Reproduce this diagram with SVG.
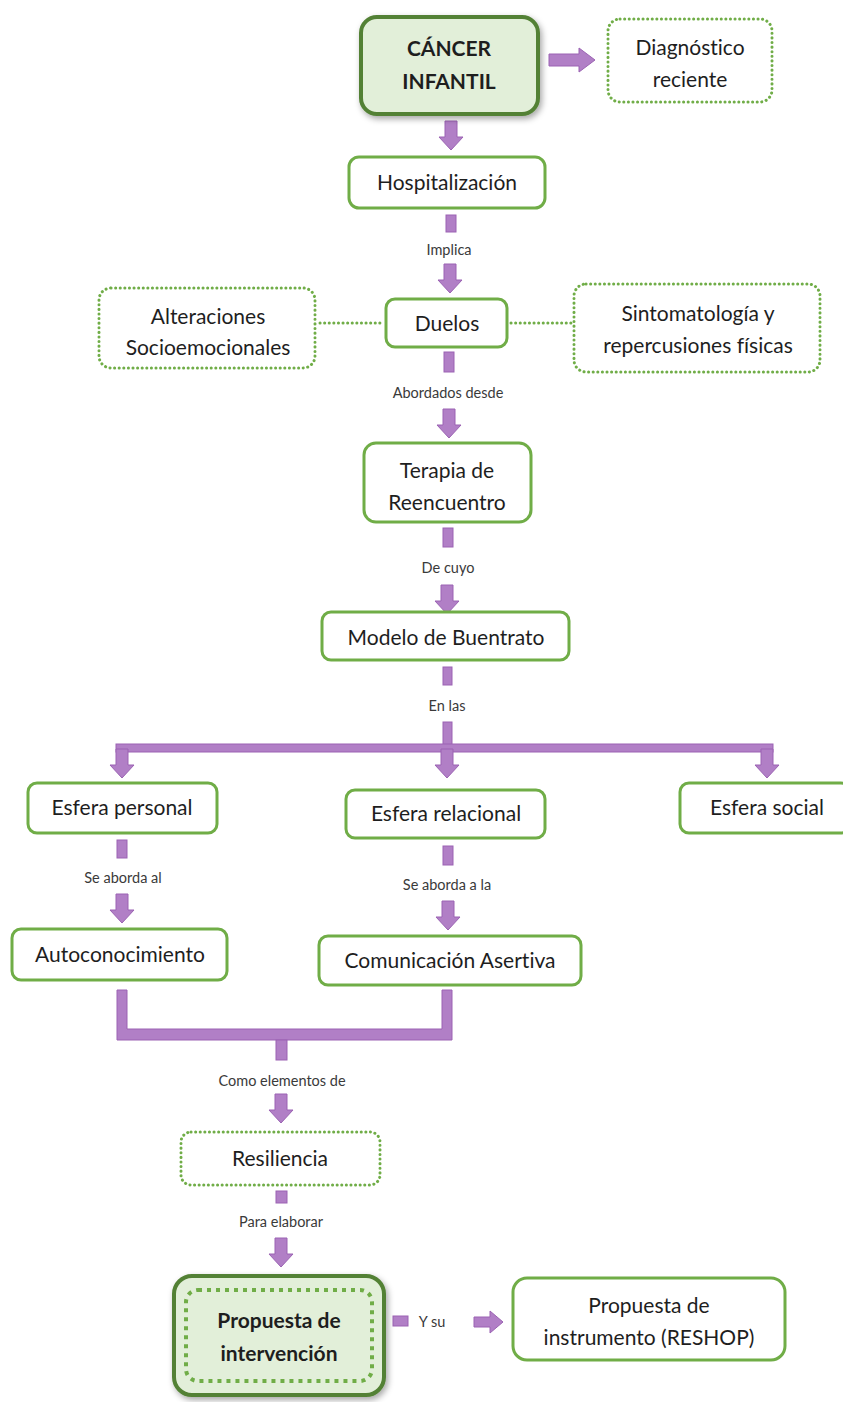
<svg xmlns="http://www.w3.org/2000/svg" xmlns:xlink="http://www.w3.org/1999/xlink" width="843" height="1402" viewBox="0 0 843 1402">
<style>
.box{fill:#fff;stroke:#70ad47;stroke-width:3}
.dot{fill:#fff;stroke:#70ad47;stroke-width:3;stroke-dasharray:0.1 4.5;stroke-linecap:round}
.main{fill:#e2efd9;stroke:#538135;stroke-width:4}
.t{font-family:Lato,"Liberation Sans",sans-serif;font-size:21px;fill:#1e1e1e;text-anchor:middle;font-variant-ligatures:none}
.b{font-weight:bold}
.s{font-family:Lato,"Liberation Sans",sans-serif;font-size:14.5px;fill:#3a3a3a;text-anchor:middle;font-variant-ligatures:none}
.p{fill:#b17fc6;stroke:#9b63b3;stroke-width:1}
.dl{stroke:#70ad47;stroke-width:3;stroke-dasharray:0.1 4.5;stroke-linecap:round}
</style>
<defs>
<filter id="sh" x="-20%" y="-20%" width="140%" height="140%">
<feDropShadow dx="2" dy="3" stdDeviation="3" flood-color="#000" flood-opacity="0.35"/>
</filter>
<path id="ad" d="M-6,0 H6 V16 H12 L0,29 L-12,16 H-6 Z"/>
<path id="ar" d="M0,-6 V6 H30 V12 L46,0 L30,-12 V-6 Z"/>
<path id="ar2" d="M0,-5 V5 H16 V11 L29,0 L16,-11 V-5 Z"/>
</defs>
<rect width="843" height="1402" fill="#fff"/>

<g id="connectors">
<use href="#ar" x="549" y="60" class="p"/>
<use href="#ad" x="451" y="121" class="p"/>
<rect x="446" y="215" width="10" height="17" class="p"/>
<text x="449" y="255" class="s">Implica</text>
<use href="#ad" x="450" y="264" class="p"/>
<line x1="320" y1="323" x2="382" y2="323" class="dl"/>
<line x1="511" y1="323" x2="571" y2="323" class="dl"/>
<rect x="444" y="352" width="10" height="20" class="p"/>
<text x="448" y="398" class="s">Abordados desde</text>
<use href="#ad" x="449" y="409" class="p"/>
<rect x="443" y="528" width="10" height="19" class="p"/>
<text x="448" y="573" class="s">De cuyo</text>
<use href="#ad" x="447" y="585" class="p"/>
<rect x="443" y="667" width="9" height="18" class="p"/>
<text x="447" y="711" class="s">En las</text>
<rect x="443" y="722" width="9" height="26" class="p"/>
<rect x="116" y="744" width="657" height="8" class="p"/>
<use href="#ad" x="122" y="749" class="p"/>
<use href="#ad" x="447" y="749" class="p"/>
<use href="#ad" x="767" y="749" class="p"/>
<rect x="117" y="840" width="10" height="18" class="p"/>
<text x="123" y="883" class="s">Se aborda al</text>
<use href="#ad" x="122" y="894" class="p"/>
<rect x="443" y="846" width="10" height="19" class="p"/>
<text x="447" y="890" class="s">Se aborda a la</text>
<use href="#ad" x="448" y="901" class="p"/>
<path d="M117,990 H127 V1029 H442 V990 H452 V1040 H117 Z" class="p"/>
<rect x="276" y="1040" width="11" height="20" class="p"/>
<text x="282" y="1086" class="s">Como elementos de</text>
<use href="#ad" x="281" y="1094" class="p"/>
<rect x="276" y="1191" width="11" height="12" class="p"/>
<text x="281" y="1227" class="s">Para elaborar</text>
<use href="#ad" x="281" y="1238" class="p"/>
<rect x="393" y="1316" width="15" height="10" class="p"/>
<text x="432" y="1327" class="s">Y su</text>
<use href="#ar2" x="474" y="1322" class="p"/>
</g>

<g id="n-cancer">
<rect x="361" y="17" width="177" height="97" rx="16" class="main" filter="url(#sh)"/>
<text x="449" y="56" class="t b">CÁNCER</text>
<text x="449" y="89" class="t b">INFANTIL</text>
</g>
<g id="n-diag">
<rect x="608" y="19" width="164" height="83" rx="12" class="dot"/>
<text x="690" y="55" class="t">Diagnóstico</text>
<text x="690" y="87" class="t">reciente</text>
</g>
<g id="n-hosp">
<rect x="349" y="157" width="196" height="51" rx="10" class="box"/>
<text x="447" y="190" class="t">Hospitalización</text>
</g>
<g id="n-alter">
<rect x="99" y="288" width="216" height="80" rx="12" class="dot"/>
<text x="208" y="324" class="t">Alteraciones</text>
<text x="208" y="355" class="t">Socioemocionales</text>
</g>
<g id="n-duelos">
<rect x="386" y="299" width="121" height="48" rx="9" class="box"/>
<text x="447" y="331" class="t">Duelos</text>
</g>
<g id="n-sinto">
<rect x="574" y="284" width="246" height="88" rx="12" class="dot"/>
<text x="698" y="321" class="t">Sintomatología y</text>
<text x="698" y="353" class="t">repercusiones físicas</text>
</g>
<g id="n-terapia">
<rect x="364" y="443" width="167" height="79" rx="12" class="box"/>
<text x="447" y="478" class="t">Terapia de</text>
<text x="447" y="510" class="t">Reencuentro</text>
</g>
<g id="n-modelo">
<rect x="322" y="612" width="247" height="48" rx="9" class="box"/>
<text x="446" y="645" class="t">Modelo de Buentrato</text>
</g>
<g id="n-personal">
<rect x="28" y="783" width="189" height="50" rx="9" class="box"/>
<text x="122" y="815" class="t">Esfera personal</text>
</g>
<g id="n-relacional">
<rect x="346" y="790" width="199" height="48" rx="9" class="box"/>
<text x="446" y="821" class="t">Esfera relacional</text>
</g>
<g id="n-social">
<rect x="680" y="783" width="170" height="50" rx="9" class="box"/>
<text x="767" y="815" class="t">Esfera social</text>
</g>
<g id="n-auto">
<rect x="12" y="929" width="215" height="51" rx="9" class="box"/>
<text x="120" y="962" class="t">Autoconocimiento</text>
</g>
<g id="n-comun">
<rect x="319" y="936" width="262" height="49" rx="9" class="box"/>
<text x="450" y="968" class="t">Comunicación Asertiva</text>
</g>
<g id="n-resil">
<rect x="181" y="1132" width="199" height="53" rx="10" class="dot"/>
<text x="280" y="1166" class="t">Resiliencia</text>
</g>
<g id="n-propuesta">
<rect x="174" y="1276" width="210" height="119" rx="18" class="main" filter="url(#sh)"/>
<rect x="186" y="1290" width="186" height="91" rx="12" fill="none" stroke="#70ad47" stroke-width="4" stroke-dasharray="4 5"/>
<text x="279" y="1328" class="t b">Propuesta de</text>
<text x="279" y="1361" class="t b">intervención</text>
</g>
<g id="n-instr">
<rect x="513" y="1278" width="272" height="82" rx="14" class="box"/>
<text x="649" y="1313" class="t">Propuesta de</text>
<text x="649" y="1345" class="t">instrumento (RESHOP)</text>
</g>
</svg>
